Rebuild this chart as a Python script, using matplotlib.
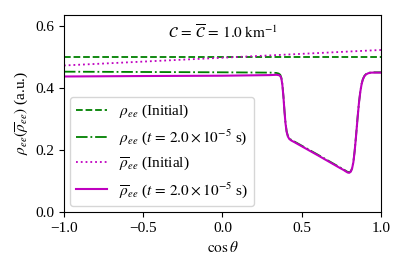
import matplotlib
matplotlib.use("Agg")
import matplotlib.pyplot as plt
import numpy as np

plt.rcParams["font.family"] = ["Liberation Serif", "DejaVu Serif"]
plt.rcParams["mathtext.fontset"] = "stix"
plt.rcParams["font.size"] = 11

# ===== DATA =====
cos_init = [-1.0, 1.0]
rho_init = [0.5, 0.5]
rhobar_init = [0.472, 0.522]

cos_t = [-1.0, -0.5, 0.0, 0.3, 0.34, 0.355, 0.365, 0.372, 0.378, 0.385,
         0.392, 0.398, 0.405, 0.413, 0.422, 0.435, 0.45, 0.6, 0.74, 0.765,
         0.78, 0.79, 0.80, 0.81, 0.818, 0.826, 0.834, 0.843, 0.852, 0.861,
         0.87, 0.878, 0.886, 0.895, 0.905, 0.92, 0.94, 0.97, 1.0]
rhobar_t = [0.4365, 0.438, 0.439, 0.441, 0.442, 0.441, 0.438, 0.43, 0.41,
            0.37, 0.32, 0.285, 0.258, 0.243, 0.235, 0.23, 0.226, 0.183, 0.142,
            0.135, 0.13, 0.127, 0.126, 0.13, 0.14, 0.16, 0.195, 0.245, 0.3,
            0.35, 0.388, 0.412, 0.427, 0.437, 0.443, 0.447, 0.449, 0.449, 0.449]
rho_t = [0.452, 0.451, 0.450, 0.449, 0.448, 0.446, 0.442, 0.432, 0.412,
         0.372, 0.322, 0.287, 0.26, 0.245, 0.237, 0.232, 0.228, 0.185, 0.144,
         0.137, 0.132, 0.129, 0.128, 0.131, 0.141, 0.161, 0.196, 0.246, 0.301,
         0.351, 0.389, 0.413, 0.428, 0.438, 0.444, 0.448, 0.45, 0.45, 0.45]

fig = plt.figure(figsize=(4.07, 2.71), dpi=100)
ax = fig.add_axes([0.157, 0.218, 0.779, 0.727])

ax.plot(cos_init, rho_init, color="green", ls="--", lw=1.3,
        label=r"$\rho_{ee}$ (Initial)")
ax.plot(cos_t, rho_t, color="green", ls="-.", lw=1.3,
        label=r"$\rho_{ee}$ ($t\,=\,2.0\times10^{-5}$ s)")
ax.plot(cos_init, rhobar_init, color="m", ls=":", lw=1.3,
        label=r"$\overline{\rho}_{ee}$ (Initial)")
ax.plot(cos_t, rhobar_t, color="m", ls="-", lw=1.5,
        label=r"$\overline{\rho}_{ee}$ ($t\,=\,2.0\times10^{-5}$ s)")

ax.text(0.5, 0.91,
        r"$\mathcal{C}\,=\,\overline{\mathcal{C}}\,=\,1.0\;\mathrm{km}^{-1}$",
        transform=ax.transAxes, ha="center", va="center")

ax.set_xlim(-1.0, 1.0)
ax.set_ylim(0.0, 0.635)
ax.set_xticks([-1.0, -0.5, 0.0, 0.5, 1.0])
ax.set_yticks([0.0, 0.2, 0.4, 0.6])
ax.set_xlabel(r"$\cos\theta$")
ax.set_ylabel(r"$\rho_{ee}(\overline{\rho}_{ee})$ (a.u.)")
ax.legend(loc="lower left", fontsize=11, borderaxespad=0.4)

fig.savefig("out.png", dpi=100)
